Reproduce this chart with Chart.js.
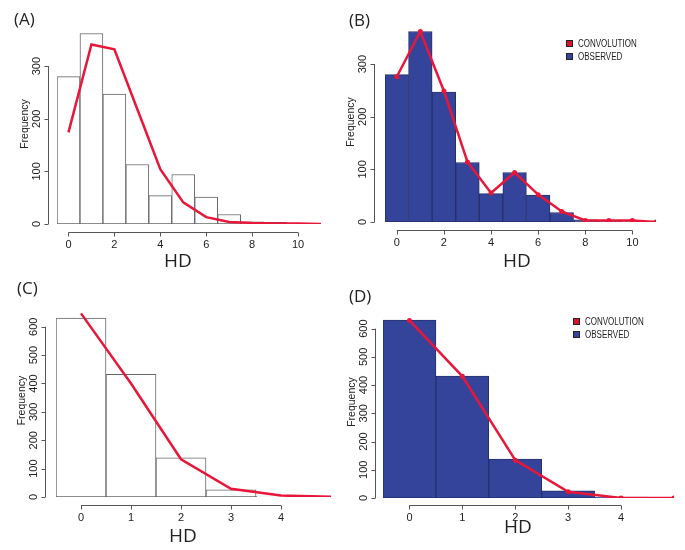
<!DOCTYPE html>
<html lang="en">
<head>
<meta charset="UTF-8">
<title>HD frequency</title>
<script src="https://cdn.jsdelivr.net/npm/chart.js@4"></script>
<style>
    body { margin: 0; width: 685px; height: 550px; background: #fff; position: relative; overflow: hidden; }
    canvas { position: absolute; }
    .tag { position: absolute; font-family: "Open Sans", sans-serif; font-size: 17px; line-height: 20px; color: #222; }
    .legend { position: absolute; font-family: "Liberation Sans Narrow", "Liberation Sans", sans-serif; font-size: 10px; line-height: 13px; color: #222; }
    .legend div { white-space: nowrap; }
    .legend .txt { display: inline-block; transform: scaleX(0.8); transform-origin: left center; }
    .box { display: inline-block; width: 5px; height: 5px; border: 1px solid #222; margin-right: 5px; vertical-align: 0; }
</style>
</head>
<body>
<canvas id="chartA" width="340" height="270" style="left:0;top:0"></canvas>
<canvas id="chartB" width="345" height="270" style="left:340px;top:0"></canvas>
<canvas id="chartC" width="340" height="280" style="left:0;top:270px"></canvas>
<canvas id="chartD" width="345" height="280" style="left:340px;top:270px"></canvas>

<div class="tag" style="left:14px;top:9px">(A)</div>
<div class="tag" style="left:349px;top:10px">(B)</div>
<div class="tag" style="left:17px;top:278px">(C)</div>
<div class="tag" style="left:349px;top:286px">(D)</div>

<div class="legend" style="left:566px;top:37px">
    <div><span class="box" style="background:#d8152f"></span><span class="txt">CONVOLUTION</span></div>
    <div><span class="box" style="background:#34449a"></span><span class="txt">OBSERVED</span></div>
</div>
<div class="legend" style="left:573px;top:315px">
    <div><span class="box" style="background:#d8152f"></span><span class="txt">CONVOLUTION</span></div>
    <div><span class="box" style="background:#34449a"></span><span class="txt">OBSERVED</span></div>
</div>

<script>
// data
// top row: HD 0..10 observed, convolution 0..11
const hdTop = [0, 1, 2, 3, 4, 5, 6, 7, 8, 9, 10];
const hdTopLine = [0, 1, 2, 3, 4, 5, 6, 7, 8, 9, 10, 11];
const observedTop = [280, 362, 247, 113, 54, 94, 51, 18, 4, 3, 1];
const convolutionA = [174, 341, 332, 218, 104, 41, 13, 4, 2, 1, 1, 0];
const convolutionB = [276, 362, 249, 114, 55, 94, 52, 20, 3, 3, 3, 0];

// bottom row: HD 0..4 observed, convolution 0..5
const hdBottom = [0, 1, 2, 3, 4];
const hdBottomLine = [0, 1, 2, 3, 4, 5];
const observedBottom = [630, 432, 138, 25, 3];
const convolutionC = [647, 400, 133, 29, 5, 1];
const convolutionD = [629, 431, 134, 22, 0, 0];

// tick labels
const xTicksTop = [0, 2, 4, 6, 8, 10];
const yTicksTop = [0, 100, 200, 300];
const xTicksBottom = [0, 1, 2, 3, 4];
const yTicksBottom = [0, 100, 200, 300, 400, 500, 600];

const RED = '#e8173a';
const BLUE = '#34449a';

// R style axes: detached lines from first to last tick
const rAxes = {
    id: 'rAxes',
    afterDraw(chart, args, o) {
        const ctx = chart.ctx;
        const a = chart.chartArea;
        const x = chart.scales.x, y = chart.scales.y;
        ctx.save();
        ctx.strokeStyle = '#555';
        ctx.lineWidth = 1;
        ctx.fillStyle = '#222';

        const ax = Math.round(a.left - o.yGap) + 0.5;
        const ay = Math.round(a.bottom + o.xGap) + 0.5;
        ctx.beginPath();
        ctx.moveTo(ax, y.getPixelForValue(o.yTicks[0]));
        ctx.lineTo(ax, y.getPixelForValue(o.yTicks[o.yTicks.length - 1]));
        o.yTicks.forEach(v => {
            const p = Math.round(y.getPixelForValue(v)) + 0.5;
            ctx.moveTo(ax, p);
            ctx.lineTo(ax - 4, p);
        });
        ctx.moveTo(x.getPixelForValue(o.xTicks[0]), ay);
        ctx.lineTo(x.getPixelForValue(o.xTicks[o.xTicks.length - 1]), ay);
        o.xTicks.forEach(v => {
            const p = Math.round(x.getPixelForValue(v)) + 0.5;
            ctx.moveTo(p, ay);
            ctx.lineTo(p, ay + 4);
        });
        ctx.stroke();

        ctx.font = '11px "Liberation Sans", Arial, sans-serif';
        ctx.textAlign = 'center';
        ctx.textBaseline = 'middle';
        o.xTicks.forEach(v => ctx.fillText(String(v), x.getPixelForValue(v), ay + 12));
        o.yTicks.forEach(v => {
            ctx.save();
            ctx.translate(ax - 12, y.getPixelForValue(v));
            ctx.rotate(-Math.PI / 2);
            ctx.fillText(String(v), 0, 0);
            ctx.restore();
        });

        ctx.save();
        ctx.font = '10.5px "Liberation Sans", Arial, sans-serif';
        ctx.translate(ax - 23, (a.top + a.bottom) / 2);
        ctx.rotate(-Math.PI / 2);
        ctx.fillText('Frequency', 0, 0);
        ctx.restore();

        ctx.font = '19px "Open Sans", sans-serif';
        ctx.fillText('HD', o.hdX, o.hdY);
        ctx.restore();
    }
};

function pts(xs, ys) {
    return xs.map((v, i) => ({ x: v, y: ys[i] }));
}

function makePanel(id, p) {
    new Chart(document.getElementById(id), {
        type: 'bar',
        data: {
            datasets: [
                {
                    type: 'line',
                    label: 'CONVOLUTION',
                    data: pts(p.lineX, p.line),
                    borderColor: RED,
                    backgroundColor: RED,
                    borderWidth: 2.5,
                    pointRadius: p.points ? 2.5 : 0,
                    pointBorderWidth: 0,
                    tension: 0,
                    order: 0
                },
                {
                    label: 'OBSERVED',
                    data: pts(p.barX, p.bars),
                    backgroundColor: p.filled ? BLUE : '#fff',
                    borderColor: p.filled ? '#26306a' : '#666',
                    borderWidth: 1,
                    borderSkipped: false,
                    barPercentage: 1,
                    categoryPercentage: 1,
                    order: 1
                }
            ]
        },
        options: {
            responsive: false,
            animation: false,
            layout: { padding: p.pad },
            scales: {
                x: {
                    type: 'linear', display: false, offset: false,
                    min: -0.5, max: p.xMax,
                    ticks: { stepSize: 1, includeBounds: false }
                },
                y: {
                    display: false, min: 0, max: p.yMax,
                    ticks: { includeBounds: false }
                }
            },
            plugins: {
                legend: { display: false },
                tooltip: { enabled: false },
                rAxes: p.axes
            }
        },
        plugins: [rAxes]
    });
}

makePanel('chartA', {
    barX: hdTop, bars: observedTop, lineX: hdTopLine, line: convolutionA,
    filled: false, points: false, xMax: 11, yMax: 380,
    pad: { left: 57, right: 19, top: 24, bottom: 46 },
    axes: { xTicks: xTicksTop, yTicks: yTicksTop, yGap: 9, xGap: 8, hdX: 178, hdY: 262 }
});
makePanel('chartB', {
    barX: hdTop, bars: observedTop, lineX: hdTopLine, line: convolutionB,
    filled: true, points: true, xMax: 11, yMax: 380,
    pad: { left: 45, right: 29, top: 22, bottom: 48 },
    axes: { xTicks: xTicksTop, yTicks: yTicksTop, yGap: 11, xGap: 8, hdX: 177, hdY: 262 }
});
makePanel('chartC', {
    barX: hdBottom, bars: observedBottom, lineX: hdBottomLine, line: convolutionC,
    filled: false, points: false, xMax: 5, yMax: 680,
    pad: { left: 56, right: 9, top: 34, bottom: 53 },
    axes: { xTicks: xTicksBottom, yTicks: yTicksBottom, yGap: 11, xGap: 8, hdX: 183, hdY: 267 }
});
makePanel('chartD', {
    barX: hdBottom, bars: observedBottom, lineX: hdBottomLine, line: convolutionD,
    filled: true, points: true, xMax: 5, yMax: 680,
    pad: { left: 43, right: 11, top: 36, bottom: 52 },
    axes: { xTicks: xTicksBottom, yTicks: yTicksBottom, yGap: 8, xGap: 7, hdX: 178, hdY: 258 }
});
</script>
</body>
</html>
